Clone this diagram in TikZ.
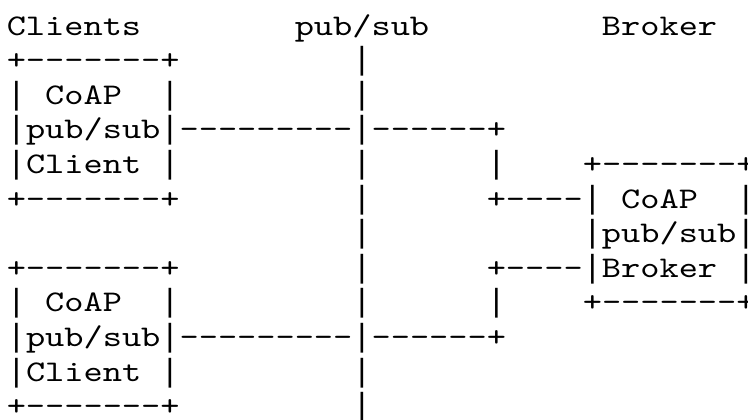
\documentclass[tikz,border=0pt]{standalone}
\usepackage{fontspec}
\setmonofont{lmmono10-regular.otf}[FakeStretch=1.219]
\newfontfamily\barfont{Liberation Mono}
\newcommand{\vb}{{\barfont\fontsize{32bp}{34.6bp}\selectfont|}}
\begin{document}
\begin{tikzpicture}[x=1bp,y=1bp,
  row/.style={anchor=base west, inner sep=0pt, outer sep=0pt, text=black,
    font=\ttfamily\fontsize{30bp}{34.6bp}\selectfont}]
\useasboundingbox (0,0) rectangle (748,-419);
\fill[white] (0,0) rectangle (748,-419);
\def\lx{6.8}
\node[row] (l0)  at (\lx,-35.0)  {Clients~~~~~~~~pub/sub~~~~~~~~~Broker};
\node[row] (l1)  at (\lx,-69.6)  {+-------+~~~~~~~~~\vb};
\node[row] (l2)  at (\lx,-104.2) {\vb~CoAP~~\vb~~~~~~~~~\vb};
\node[row] (l3)  at (\lx,-138.8) {\vb pub/sub\vb---------\vb------+};
\node[row] (l4)  at (\lx,-173.4) {\vb Client~\vb~~~~~~~~~\vb~~~~~~\vb~~~~+-------+};
\node[row] (l5)  at (\lx,-208.0) {+-------+~~~~~~~~~\vb~~~~~~+----\vb~CoAP~~\vb};
\node[row] (l6)  at (\lx,-242.6) {~~~~~~~~~~~~~~~~~~\vb~~~~~~~~~~~\vb pub/sub\vb};
\node[row] (l7)  at (\lx,-277.2) {+-------+~~~~~~~~~\vb~~~~~~+----\vb Broker~\vb};
\node[row] (l8)  at (\lx,-311.8) {\vb~CoAP~~\vb~~~~~~~~~\vb~~~~~~\vb~~~~+-------+};
\node[row] (l9)  at (\lx,-346.4) {\vb pub/sub\vb---------\vb------+};
\node[row] (l10) at (\lx,-381.0) {\vb Client~\vb~~~~~~~~~\vb};
\node[row] (l11) at (\lx,-415.6) {+-------+~~~~~~~~~\vb};
\end{tikzpicture}
\end{document}
